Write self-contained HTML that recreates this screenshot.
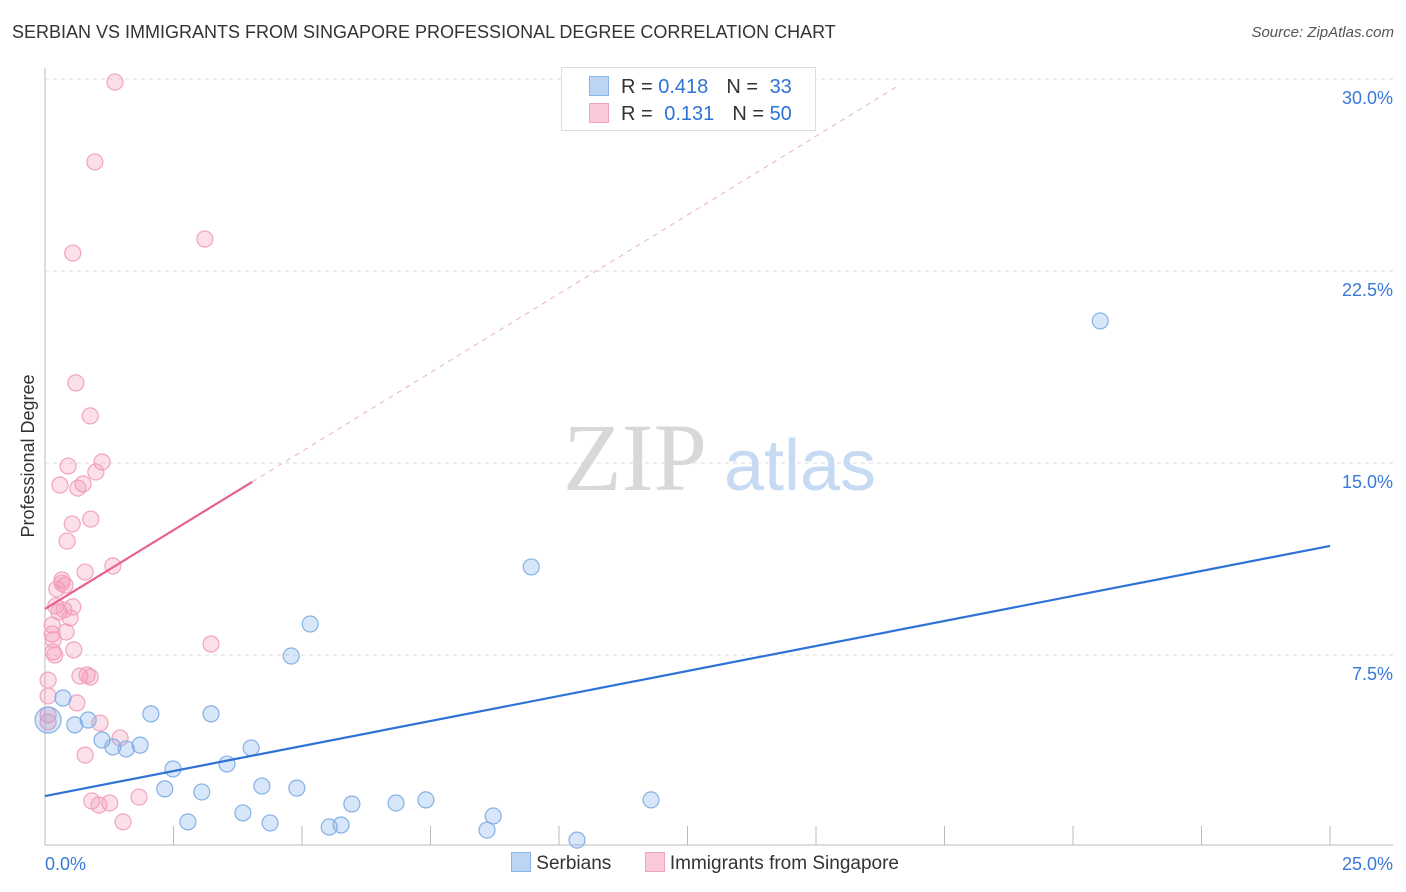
<!DOCTYPE html>
<html><head><meta charset="utf-8"><style>
body{margin:0;background:#fff;font-family:"Liberation Sans",sans-serif;}
#wrap{position:relative;width:1406px;height:892px;overflow:hidden;}
.t{position:absolute;white-space:nowrap;}
</style></head><body>
<div id="wrap">
<div class="t" style="left:12px;top:22px;font-size:18px;color:#333;">SERBIAN VS IMMIGRANTS FROM SINGAPORE PROFESSIONAL DEGREE CORRELATION CHART</div>
<div class="t" style="right:12px;top:24px;font-size:15px;color:#555;font-style:italic;">Source: ZipAtlas.com</div>
<svg id="c" width="1406" height="892" style="position:absolute;left:0;top:0"></svg>
</div>
<script>
const yTicks=[7.5,15,22.5,30];
const yTickLabels=["7.5%","15.0%","22.5%","30.0%"];
const blueX=[20.53,9.46,5.16,4.79,0.35,2.06,3.23,0.84,0.58,0.06,1.11,1.32,1.58,1.85,4.01,3.54,2.49,2.33,3.05,4.22,4.90,3.85,2.78,4.38,5.97,6.83,7.41,11.79,8.72,5.53,5.76,8.60,10.35];
const blueY=[20.55,10.94,8.71,7.46,5.82,5.20,5.20,4.96,4.77,4.96,4.18,3.91,3.83,3.98,3.87,3.24,3.05,2.27,2.15,2.38,2.30,1.33,0.98,0.94,1.68,1.72,1.84,1.84,1.21,0.78,0.86,0.66,0.27];
const pinkX=[1.36,0.97,3.11,0.54,0.60,0.88,0.45,1.11,0.99,0.74,0.29,0.64,0.89,0.53,0.43,1.32,0.78,0.33,0.39,0.23,0.21,0.54,0.27,0.49,0.41,0.14,0.16,3.23,0.56,0.16,0.19,0.82,0.68,0.88,0.06,0.06,0.62,1.07,0.06,1.46,0.78,0.91,1.26,1.05,1.83,1.52,0.14,0.37,0.33,0.06];
const pinkY=[29.88,26.76,23.75,23.20,18.13,16.84,14.88,15.04,14.65,14.18,14.14,14.02,12.81,12.62,11.95,10.98,10.74,10.43,10.23,10.08,9.41,9.38,9.18,8.95,8.40,8.32,8.09,7.93,7.70,7.62,7.50,6.72,6.68,6.64,6.52,5.90,5.63,4.84,4.88,4.26,3.59,1.80,1.72,1.64,1.95,0.98,8.67,9.26,10.31,5.16];
const blueTrend=[1.99,11.76]; // y at x=0 and x=25
const pinkTrend=[9.30,1.231]; // intercept, slope
const NS="http://www.w3.org/2000/svg";
const svg=document.getElementById('c');
const X=v=>45+v*(1285/25);
const Y=v=>847-v*25.6;
function mk(t,a,p){const e=document.createElementNS(NS,t);for(const k in a)e.setAttribute(k,a[k]);(p||svg).appendChild(e);return e;}
yTicks.forEach((v,i)=>{
 const g=mk('line',{x1:45,x2:1393,y1:Y(v),y2:Y(v),stroke:'#ddd','stroke-dasharray':'4,4'});
 
 
 const t=mk('text',{x:1393,y:Y(v)+25,'text-anchor':'end','font-size':18,fill:'#3a78d8'});
 t.textContent=yTickLabels[i];
 
 
});
const ax=mk('line',{x1:45,x2:45,y1:68,y2:845,stroke:'#bbb'});


const bx=mk('line',{x1:45,x2:1393,y1:845,y2:845,stroke:'#bbb'});


for(let i=1;i<=10;i++){const tk=mk('line',{x1:X(i*2.5),x2:X(i*2.5),y1:826,y2:845,stroke:'#bbb'});
 
 }
[[0,'0.0%','start',45],[25,'25.0%','end',1393]].forEach(d=>{const t=mk('text',{x:d[3],y:870,'text-anchor':d[2],'font-size':18,fill:'#3a78d8'});t.textContent=d[1];
 
 });
const yt=mk('text',{x:34,y:456,'text-anchor':'middle','font-size':18,fill:'#333',transform:'rotate(-90 34 456)'});yt.textContent='Professional Degree';


const w1=mk('text',{x:635,y:490,'text-anchor':'middle','font-size':96,fill:'#d8d8d8','font-family':'Liberation Serif'});w1.textContent='ZIP';


const w2=mk('text',{x:800,y:490,'text-anchor':'middle','font-size':72,fill:'#c6dbf3'});w2.textContent='atlas';


pinkX.forEach((x,i)=>{const c=mk('circle',{cx:X(x),cy:Y(pinkY[i]),r:8,fill:'rgba(244,143,177,0.28)',stroke:'#f2a3bd','stroke-width':1.2});
 
 });
blueX.forEach((x,i)=>{const c=mk('circle',{cx:X(x),cy:Y(blueY[i]),r:i==9?13:8,fill:'rgba(110,165,230,0.28)',stroke:'#86b0e6','stroke-width':1.2});
 
 });
const bl=mk('line',{x1:X(0),y1:Y(blueTrend[0]),x2:X(25),y2:Y(blueTrend[1]),stroke:'#2f72d6','stroke-width':2.2});


const pd=mk('line',{x1:X(4.03),y1:Y(pinkTrend[0]+pinkTrend[1]*4.03),x2:X(16.63),y2:Y(pinkTrend[0]+pinkTrend[1]*16.63),stroke:'#eab0c4','stroke-width':1,'stroke-dasharray':'5,5'});


const pl=mk('line',{x1:X(0),y1:Y(pinkTrend[0]),x2:X(4.03),y2:Y(pinkTrend[0]+pinkTrend[1]*4.03),stroke:'#e8608f','stroke-width':2.2});


</script>
<div style="position:absolute;left:561px;top:67px;width:253px;height:62px;border:1px solid #ddd;background:#fff;font-size:20px;">
 <div style="position:absolute;left:27px;top:8px;white-space:nowrap;"><span style="display:inline-block;width:18px;height:18px;background:#bcd5f5;border:1px solid #8ab4e8;vertical-align:-3px;"></span><span style="color:#333;margin-left:12px;">R = </span><span style="color:#2f72d6;">0.418</span><span style="color:#333;margin-left:18px;">N = </span><span style="color:#2f72d6;margin-left:6px;">33</span></div>
 <div style="position:absolute;left:27px;top:35px;white-space:nowrap;"><span style="display:inline-block;width:18px;height:18px;background:#f9c9d8;border:1px solid #f2a3bd;vertical-align:-3px;"></span><span style="color:#333;margin-left:12px;">R = </span><span style="color:#2f72d6;margin-left:6px;">0.131</span><span style="color:#333;margin-left:18px;">N = </span><span style="color:#2f72d6;">50</span></div>
</div>
<div style="position:absolute;left:511px;top:852px;font-size:19px;color:#333;white-space:nowrap;">
 <span><span style="display:inline-block;width:18px;height:18px;background:#bcd5f5;border:1px solid #8ab4e8;vertical-align:-3px;"></span> Serbians</span>
 <span style="margin-left:28px;"><span style="display:inline-block;width:18px;height:18px;background:#f9c9d8;border:1px solid #f2a3bd;vertical-align:-3px;"></span> Immigrants from Singapore</span>
</div>
</body></html>
